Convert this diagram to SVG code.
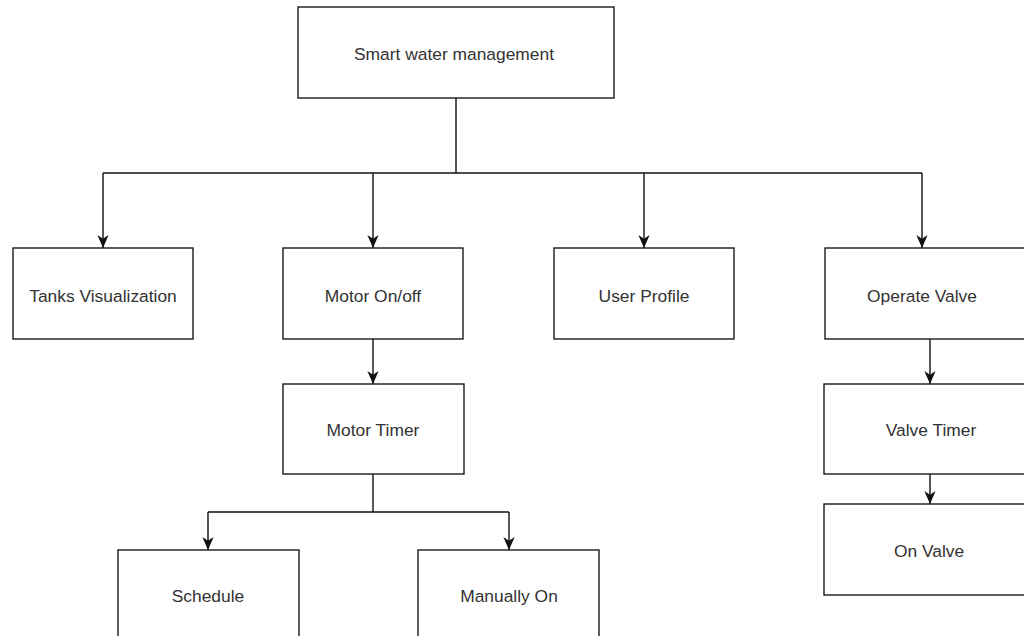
<svg xmlns="http://www.w3.org/2000/svg" width="1024" height="636" viewBox="0 0 1024 636">
  <style>
    .box { fill: #ffffff; stroke: #1a1a1a; stroke-width: 1.4; }
    .label { font-family: "Liberation Sans", Arial, sans-serif; font-size: 17.4px; fill: #333333; text-anchor: middle; }
    .line { fill: none; stroke: #111111; stroke-width: 1.4; }
    .edge { fill: none; stroke: #111111; stroke-width: 1.4; marker-end: url(#arrow); }
  </style>
  <defs>
    <marker id="arrow" viewBox="0 0 12 12" refX="12" refY="6" markerWidth="13" markerHeight="13" markerUnits="userSpaceOnUse" orient="auto">
      <path d="M0,0.8 L12,6 L0,11.2 L3.5,6 Z" fill="#111111"/>
    </marker>
  </defs>
  <rect width="1024" height="636" fill="#ffffff"/>

  <g id="connectors">
    <!-- trunk and bus from the root -->
    <path class="line" d="M456,98 V173"/>
    <path class="line" d="M103,173 H922"/>
    <path class="edge" d="M103,173 V248"/>
    <path class="edge" d="M373,173 V248"/>
    <path class="edge" d="M644,173 V248"/>
    <path class="edge" d="M922,173 V248"/>
    <!-- motor branch -->
    <path class="edge" d="M373,339 V384"/>
    <path class="line" d="M373,474 V512"/>
    <path class="line" d="M208,512 H509"/>
    <path class="edge" d="M208,512 V550"/>
    <path class="edge" d="M509,512 V550"/>
    <!-- valve branch -->
    <path class="edge" d="M930,339 V384"/>
    <path class="edge" d="M930,474 V504"/>
  </g>

  <g id="smart-water-management">
    <rect class="box" x="298" y="7" width="316" height="91"/>
    <text class="label" x="454" y="60">Smart water management</text>
  </g>
  <g id="tanks-visualization">
    <rect class="box" x="13" y="248" width="180" height="91"/>
    <text class="label" x="103" y="302">Tanks Visualization</text>
  </g>
  <g id="motor-on-off">
    <rect class="box" x="283" y="248" width="180" height="91"/>
    <text class="label" x="373" y="302">Motor On/off</text>
  </g>
  <g id="user-profile">
    <rect class="box" x="554" y="248" width="180" height="91"/>
    <text class="label" x="644" y="302">User Profile</text>
  </g>
  <g id="operate-valve">
    <rect class="box" x="825" y="248" width="210" height="91"/>
    <text class="label" x="922" y="302">Operate Valve</text>
  </g>
  <g id="motor-timer">
    <rect class="box" x="283" y="384" width="181" height="90"/>
    <text class="label" x="373" y="436">Motor Timer</text>
  </g>
  <g id="valve-timer">
    <rect class="box" x="824" y="384" width="214" height="90"/>
    <text class="label" x="931" y="436">Valve Timer</text>
  </g>
  <g id="on-valve">
    <rect class="box" x="824" y="504" width="214" height="91"/>
    <text class="label" x="929" y="557">On Valve</text>
  </g>
  <g id="schedule">
    <rect class="box" x="118" y="550" width="181" height="91"/>
    <text class="label" x="208" y="602">Schedule</text>
  </g>
  <g id="manually-on">
    <rect class="box" x="418" y="550" width="181" height="91"/>
    <text class="label" x="509" y="602">Manually On</text>
  </g>
</svg>
